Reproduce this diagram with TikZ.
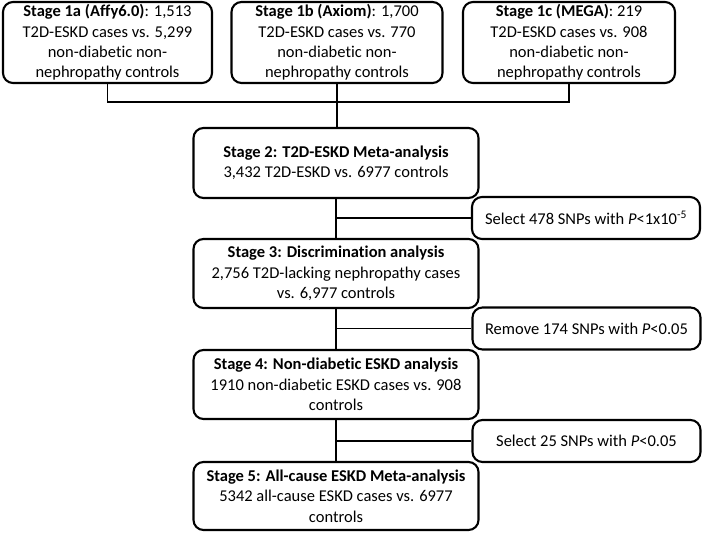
\documentclass[tikz,border=0pt]{standalone}
\usepackage{fontspec}
\setmainfont{Carlito}[Ligatures=NoCommon,RawFeature=-liga]
\begin{document}
\begin{tikzpicture}[x=1pt,y=-1pt,
  box/.style={draw,line width=2.1pt,rounded corners=10pt,align=center,inner sep=2pt,
    font=\fontsize{16.5}{20.3}\selectfont},
  topbox/.style={box,minimum height=81pt},
  stagebox/.style={box,minimum width=285pt},
  sidebox/.style={box,minimum width=228pt,minimum height=42pt},
  conn/.style={line width=1.8pt}]
\useasboundingbox (0,0) rectangle (709,533);
\node[topbox,minimum width=209pt] (a) at (107.5,42.5) {\textbf{Stage 1a (Affy6.0)}: 1,513\\T2D-ESKD cases vs. 5,299\\non-diabetic non-\\nephropathy controls};
\node[topbox,minimum width=211pt] (b) at (337,42.5) {\textbf{Stage 1b (Axiom)}: 1,700\\T2D-ESKD cases vs. 770\\non-diabetic non-\\nephropathy controls};
\node[topbox,minimum width=212pt] (c) at (569,42.5) {\textbf{Stage 1c (MEGA)}: 219\\T2D-ESKD cases vs. 908\\non-diabetic non-\\nephropathy controls};
\node[stagebox,minimum height=70pt] (s2) at (336,163) {\textbf{Stage 2: T2D-ESKD  Meta-analysis}\\3,432 T2D-ESKD vs. 6977 controls};
\node[sidebox] (r1) at (586,218) {Select 478 SNPs with \textit{P}<1x10\textsuperscript{-5}};
\node[stagebox,minimum height=69pt] (s3) at (336,273.5) {\textbf{Stage 3: Discrimination  analysis}\\2,756 T2D-lacking nephropathy cases\\vs. 6,977 controls};
\node[sidebox] (r2) at (586.5,328.5) {Remove  174 SNPs with \textit{P}<0.05};
\node[stagebox,minimum height=69pt] (s4) at (336,384.5) {\textbf{Stage 4: Non-diabetic  ESKD analysis}\\1910 non-diabetic ESKD cases vs. 908\\controls};
\node[sidebox] (r3) at (586.5,441) {Select 25 SNPs with \textit{P}<0.05};
\node[stagebox,minimum height=68pt] (s5) at (336,496) {\textbf{Stage 5: All-cause ESKD  Meta-analysis}\\5342 all-cause ESKD cases vs. 6977\\controls};
\coordinate (j) at (337,102);
\draw[conn] (a.south) |- (j) -| (c.south);
\draw[conn] (b.south) -- (b.south |- s2.north);
\draw[conn] (s2.south) -- (s3.north);
\draw[conn] (s2.south |- r1.west) -- (r1.west);
\draw[conn] (s3.south) -- (s4.north);
\draw[conn] (s3.south |- r2.west) -- (r2.west);
\draw[conn] (s4.south) -- (s5.north);
\draw[conn] (s4.south |- r3.west) -- (r3.west);
\end{tikzpicture}
\end{document}
